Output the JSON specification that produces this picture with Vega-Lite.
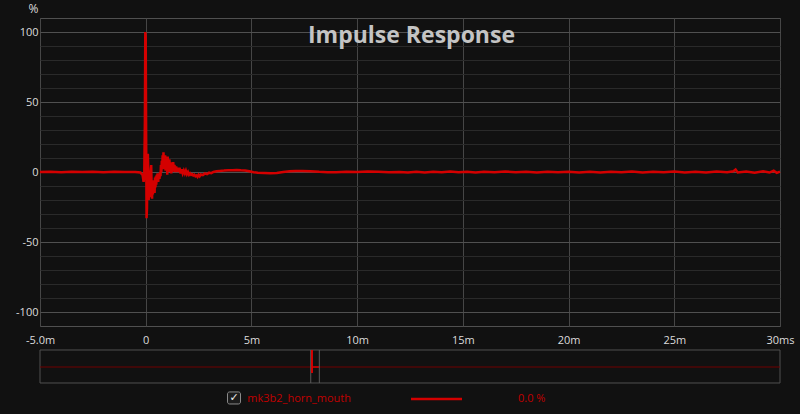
{
  "$schema": "https://vega.github.io/schema/vega-lite/v6.json",
  "width": 740,
  "height": 308,
  "autosize": {"type": "none"},
  "padding": {"left": 40, "top": 18, "right": 20, "bottom": 88},
  "background": "#111111",
  "title": {
    "text": "Impulse Response",
    "anchor": "middle",
    "frame": "group",
    "orient": "top",
    "font": "Open Sans",
    "fontSize": 23,
    "fontWeight": "bold",
    "color": "#c4c4c4",
    "baseline": "alphabetic",
    "offset": -64,
    "dx": 1.5
  },
  "config": {
    "view": {"stroke": "#505050", "strokeWidth": 1, "fill": "#111111"},
    "axis": {"labelFont": "Open Sans", "titleFont": "Open Sans", "labelColor": "#dcdcdc", "titleColor": "#dcdcdc"}
  },
  "resolve": {"scale": {"x": "independent", "y": "independent"}},
  "layer": [
    {
      "data": {
        "values": [
          {"t": -5.0, "v": 0}, {"t": -4.5, "v": 0.2}, {"t": -4.0, "v": -0.1}, {"t": -3.5, "v": 0.1},
          {"t": -3.0, "v": 0}, {"t": -2.5, "v": 0.15}, {"t": -2.0, "v": -0.1}, {"t": -1.5, "v": 0.1},
          {"t": -1.0, "v": 0}, {"t": -0.5, "v": 0}, {"t": -0.25, "v": -0.4}, {"t": -0.15, "v": -2},
          {"t": -0.1, "v": -7}, {"t": -0.07, "v": -3}, {"t": -0.04, "v": 35}, {"t": -0.02, "v": 100},
          {"t": 0.0, "v": 96}, {"t": 0.02, "v": 25}, {"t": 0.04, "v": -33}, {"t": 0.06, "v": -26},
          {"t": 0.08, "v": 4}, {"t": 0.1, "v": 13}, {"t": 0.12, "v": 1}, {"t": 0.14, "v": -20},
          {"t": 0.16, "v": -10}, {"t": 0.18, "v": -18}, {"t": 0.2, "v": -6}, {"t": 0.22, "v": -15},
          {"t": 0.24, "v": 1}, {"t": 0.26, "v": 5}, {"t": 0.28, "v": -12}, {"t": 0.3, "v": -19},
          {"t": 0.32, "v": -8}, {"t": 0.34, "v": -16}, {"t": 0.36, "v": -6}, {"t": 0.38, "v": -14},
          {"t": 0.4, "v": -9}, {"t": 0.42, "v": -15}, {"t": 0.44, "v": -4}, {"t": 0.46, "v": -11},
          {"t": 0.48, "v": -3}, {"t": 0.5, "v": -9}, {"t": 0.52, "v": -2}, {"t": 0.54, "v": -7},
          {"t": 0.56, "v": -1}, {"t": 0.59, "v": -7}, {"t": 0.62, "v": -2}, {"t": 0.65, "v": -5},
          {"t": 0.68, "v": 0}, {"t": 0.7, "v": -3}, {"t": 0.72, "v": 5}, {"t": 0.74, "v": 0},
          {"t": 0.76, "v": 8}, {"t": 0.78, "v": 2}, {"t": 0.8, "v": 12}, {"t": 0.82, "v": 3},
          {"t": 0.84, "v": 14}, {"t": 0.86, "v": 4}, {"t": 0.88, "v": 10}, {"t": 0.9, "v": 2},
          {"t": 0.92, "v": 12}, {"t": 0.94, "v": 1}, {"t": 0.96, "v": 11}, {"t": 0.98, "v": 3},
          {"t": 1.0, "v": 9}, {"t": 1.02, "v": -2}, {"t": 1.04, "v": 11}, {"t": 1.06, "v": 2},
          {"t": 1.08, "v": 8}, {"t": 1.1, "v": 0}, {"t": 1.12, "v": 9}, {"t": 1.15, "v": 1},
          {"t": 1.18, "v": 7}, {"t": 1.21, "v": -1}, {"t": 1.24, "v": 6}, {"t": 1.27, "v": 0},
          {"t": 1.3, "v": 7}, {"t": 1.33, "v": 1}, {"t": 1.36, "v": 5}, {"t": 1.4, "v": 0},
          {"t": 1.44, "v": 4}, {"t": 1.48, "v": 0}, {"t": 1.52, "v": 3}, {"t": 1.56, "v": 0},
          {"t": 1.6, "v": 3}, {"t": 1.65, "v": -1}, {"t": 1.7, "v": 2}, {"t": 1.75, "v": -1},
          {"t": 1.8, "v": 1}, {"t": 1.85, "v": -1}, {"t": 1.9, "v": 1}, {"t": 1.95, "v": -1.5},
          {"t": 2.0, "v": 0}, {"t": 2.05, "v": -2}, {"t": 2.1, "v": -1}, {"t": 2.15, "v": -2},
          {"t": 2.2, "v": -1.5}, {"t": 2.25, "v": -2.5}, {"t": 2.3, "v": -2}, {"t": 2.35, "v": -3},
          {"t": 2.4, "v": -2.5}, {"t": 2.45, "v": -3.5}, {"t": 2.5, "v": -2}, {"t": 2.55, "v": -3},
          {"t": 2.6, "v": -1.8}, {"t": 2.7, "v": -2.2}, {"t": 2.8, "v": -1}, {"t": 2.9, "v": -1.5},
          {"t": 3.0, "v": -0.5}, {"t": 3.1, "v": -0.8}, {"t": 3.2, "v": 0}, {"t": 3.35, "v": 0.5},
          {"t": 3.5, "v": 0.8}, {"t": 3.7, "v": 1.0}, {"t": 3.9, "v": 1.3}, {"t": 4.1, "v": 1.2},
          {"t": 4.3, "v": 1.5}, {"t": 4.5, "v": 1.2}, {"t": 4.7, "v": 1.0}, {"t": 4.9, "v": 0.5},
          {"t": 5.1, "v": -0.2}, {"t": 5.3, "v": -0.5}, {"t": 5.6, "v": -0.7}, {"t": 5.9, "v": -0.9},
          {"t": 6.2, "v": -0.7}, {"t": 6.5, "v": 0}, {"t": 6.8, "v": 0.5}, {"t": 7.1, "v": 0.7},
          {"t": 7.4, "v": 0.8}, {"t": 7.8, "v": 0.6}, {"t": 8.2, "v": 0.1}, {"t": 8.6, "v": -0.2},
          {"t": 9.0, "v": -0.1}, {"t": 9.5, "v": 0.1}, {"t": 10.0, "v": 0}, {"t": 10.5, "v": 0.3},
          {"t": 11.0, "v": 0.2}, {"t": 11.5, "v": -0.2}, {"t": 12.0, "v": 0}, {"t": 12.4, "v": -0.4},
          {"t": 12.8, "v": 0.2}, {"t": 13.2, "v": -0.3}, {"t": 13.6, "v": 0.1}, {"t": 14.0, "v": -0.2},
          {"t": 14.4, "v": 0.3}, {"t": 14.8, "v": -0.1}, {"t": 15.2, "v": 0.2}, {"t": 15.6, "v": -0.3},
          {"t": 16.0, "v": 0.1}, {"t": 16.5, "v": -0.2}, {"t": 17.0, "v": 0.3}, {"t": 17.5, "v": -0.1},
          {"t": 18.0, "v": 0.2}, {"t": 18.5, "v": -0.3}, {"t": 19.0, "v": 0.1}, {"t": 19.5, "v": -0.2},
          {"t": 20.0, "v": 0.2}, {"t": 20.5, "v": -0.3}, {"t": 21.0, "v": 0.1}, {"t": 21.5, "v": -0.4},
          {"t": 22.0, "v": 0.2}, {"t": 22.5, "v": -0.2}, {"t": 23.0, "v": 0.3}, {"t": 23.5, "v": -0.3},
          {"t": 24.0, "v": 0.2}, {"t": 24.5, "v": -0.2}, {"t": 25.0, "v": 0.4}, {"t": 25.5, "v": -0.3},
          {"t": 26.0, "v": 0.2}, {"t": 26.5, "v": -0.4}, {"t": 27.0, "v": 0.3}, {"t": 27.5, "v": -0.2},
          {"t": 27.8, "v": 0.5}, {"t": 27.9, "v": 1.8}, {"t": 28.0, "v": -0.3}, {"t": 28.4, "v": 0.4},
          {"t": 28.8, "v": -0.5}, {"t": 29.2, "v": 0.6}, {"t": 29.5, "v": -0.4}, {"t": 29.7, "v": 0.9},
          {"t": 29.85, "v": -0.6}, {"t": 30.0, "v": 0.3}
        ]
      },
      "mark": {"type": "line", "color": "#d40000", "strokeWidth": 2.5, "interpolate": "linear"},
      "encoding": {
        "x": {
          "field": "t", "type": "quantitative",
          "scale": {"domain": [-5, 30], "nice": false, "zero": false},
          "axis": {
            "values": [-5, 0, 5, 10, 15, 20, 25, 30],
            "labelExpr": "datum.value == -5 ? '-5.0m' : datum.value == 30 ? '30ms' : datum.value == 0 ? '0' : datum.value + 'm'",
            "grid": true, "gridColor": "#464646", "gridWidth": 1,
            "ticks": false, "domain": false, "title": null,
            "labelFontSize": 11, "labelPadding": 8, "labelFlush": false, "labelOverlap": false
          }
        },
        "y": {
          "field": "v", "type": "quantitative",
          "scale": {"domain": [-110, 110], "nice": false, "zero": false},
          "axis": {
            "values": [-100, -90, -80, -70, -60, -50, -40, -30, -20, -10, 0, 10, 20, 30, 40, 50, 60, 70, 80, 90, 100],
            "labelExpr": "datum.value % 50 == 0 ? '' + datum.value : ''",
            "grid": true,
            "gridColor": {"condition": {"test": "datum.value % 50 == 0", "value": "#505050"}, "value": "#2a2a2a"},
            "ticks": false, "domain": false,
            "labelFontSize": 11, "labelPadding": 2, "labelOverlap": false,
            "title": "%", "titleAngle": 0, "titleAlign": "right", "titleBaseline": "middle",
            "titleX": -2, "titleY": -10, "titleFontSize": 12, "titleFontWeight": "normal"
          }
        }
      }
    },
    {
      "layer": [
        {
          "data": {"values": [{"a": -1107, "b": 1905, "top": -127.14, "bottom": -150.71}]},
          "mark": {"type": "rect", "fill": "#111111", "stroke": "#505050", "strokeWidth": 1},
          "encoding": {
            "x": {"field": "a", "type": "quantitative", "scale": {"domain": [-1107, 1905], "nice": false, "zero": false}, "axis": null},
            "x2": {"field": "b"},
            "y": {"field": "top", "type": "quantitative", "scale": {"domain": [-110, 110], "nice": false, "zero": false}, "axis": null},
            "y2": {"field": "bottom"}
          }
        },
        {
          "data": {
            "values": [
              {"seg": "trace", "a": -1107, "b": 1905, "v": -139.29},
              {"seg": "window", "a": 0, "b": 30, "v": -139.29}
            ]
          },
          "mark": {"type": "rule"},
          "encoding": {
            "x": {"field": "a", "type": "quantitative", "scale": {"domain": [-1107, 1905], "nice": false, "zero": false}, "axis": null},
            "x2": {"field": "b"},
            "y": {"field": "v", "type": "quantitative", "scale": {"domain": [-110, 110], "nice": false, "zero": false}, "axis": null},
            "color": {"field": "seg", "type": "nominal", "scale": {"domain": ["trace", "window"], "range": ["#700000", "#d40000"]}, "legend": null},
            "strokeWidth": {"field": "seg", "type": "nominal", "scale": {"domain": ["trace", "window"], "range": [1, 1.5]}, "legend": null}
          }
        },
        {
          "data": {
            "values": [
              {"edge": "start", "a": -5, "top": -127.14, "bottom": -150.71},
              {"edge": "end", "a": 30, "top": -127.14, "bottom": -150.71}
            ]
          },
          "mark": {"type": "rule", "color": "#5a5a5a", "strokeWidth": 1},
          "encoding": {
            "x": {"field": "a", "type": "quantitative", "scale": {"domain": [-1107, 1905], "nice": false, "zero": false}, "axis": null},
            "y": {"field": "top", "type": "quantitative", "scale": {"domain": [-110, 110], "nice": false, "zero": false}, "axis": null},
            "y2": {"field": "bottom"}
          }
        },
        {
          "data": {"values": [{"a": 0, "top": -127.14, "bottom": -143.57}]},
          "mark": {"type": "rule", "color": "#d40000", "strokeWidth": 2},
          "encoding": {
            "x": {"field": "a", "type": "quantitative", "scale": {"domain": [-1107, 1905], "nice": false, "zero": false}, "axis": null},
            "y": {"field": "top", "type": "quantitative", "scale": {"domain": [-110, 110], "nice": false, "zero": false}, "axis": null},
            "y2": {"field": "bottom"}
          }
        },
        {
          "data": {"values": [{"item": "box", "a": -343.8, "b": -290.9, "top": -157.1, "bottom": -165.7}]},
          "mark": {"type": "rect", "fill": "#1c1c1c", "stroke": "#8a8a8a", "strokeWidth": 1, "cornerRadius": 2},
          "encoding": {
            "x": {"field": "a", "type": "quantitative", "scale": {"domain": [-1107, 1905], "nice": false, "zero": false}, "axis": null},
            "x2": {"field": "b"},
            "y": {"field": "top", "type": "quantitative", "scale": {"domain": [-110, 110], "nice": false, "zero": false}, "axis": null},
            "y2": {"field": "bottom"}
          }
        },
        {
          "data": {"values": [{"item": "check", "a": -317.4, "v": -161.4, "label": "✓"}]},
          "mark": {"type": "text", "baseline": "middle", "align": "center", "font": "DejaVu Sans", "fontSize": 11, "fontWeight": "bold", "color": "#ececec"},
          "encoding": {
            "x": {"field": "a", "type": "quantitative", "scale": {"domain": [-1107, 1905], "nice": false, "zero": false}, "axis": null},
            "y": {"field": "v", "type": "quantitative", "scale": {"domain": [-110, 110], "nice": false, "zero": false}, "axis": null},
            "text": {"field": "label"}
          }
        },
        {
          "data": {
            "values": [
              {"item": "name", "a": -263.2, "v": -162.1, "label": "mk3b2_horn_mouth"},
              {"item": "value", "a": 838.6, "v": -162.1, "label": "0.0 %"}
            ]
          },
          "mark": {"type": "text", "baseline": "middle", "align": "left", "font": "Open Sans", "fontSize": 11, "color": "#c00000"},
          "encoding": {
            "x": {"field": "a", "type": "quantitative", "scale": {"domain": [-1107, 1905], "nice": false, "zero": false}, "axis": null},
            "y": {"field": "v", "type": "quantitative", "scale": {"domain": [-110, 110], "nice": false, "zero": false}, "axis": null},
            "text": {"field": "label"}
          }
        },
        {
          "data": {"values": [{"item": "swatch", "a": 403.1, "b": 610.7, "v": -162.1}]},
          "mark": {"type": "rule", "color": "#d40000", "strokeWidth": 2.5},
          "encoding": {
            "x": {"field": "a", "type": "quantitative", "scale": {"domain": [-1107, 1905], "nice": false, "zero": false}, "axis": null},
            "x2": {"field": "b"},
            "y": {"field": "v", "type": "quantitative", "scale": {"domain": [-110, 110], "nice": false, "zero": false}, "axis": null}
          }
        }
      ]
    }
  ]
}
